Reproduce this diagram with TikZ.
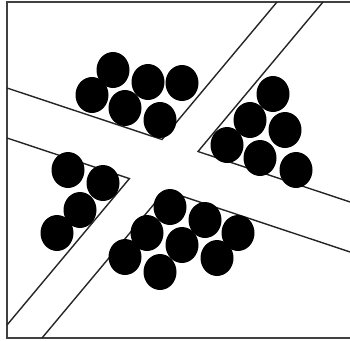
\documentclass[tikz,border=0pt]{standalone}
\usepackage{tikz}
\tikzset{road/.style={line width=1.4pt,black!85},car/.style={fill=black}}

\begin{document}
\begin{tikzpicture}[x=1pt,y=-1pt]
\useasboundingbox[fill=white] (0,0) rectangle (350,340);
\clip (0,0) rectangle (350,340);
\draw[line width=2pt,black!75](7,2) rectangle (354,338);
\coordinate (tl) at (162,139.5);
\coordinate (tr) at (198,151.5);
\coordinate (bl) at (129.4,178.6);
\coordinate (br) at (165.3,190.6);
\draw[road](7,88)--(tl)--(277,2);
\draw[road](323,2)--(tr)--(352,202.6);
\draw[road](7,138)--(bl)--(7,325);
\draw[road](42,338)--(br)--(352,252.6);
\foreach \x/\y in {113/70,92/95,148/82,182/83,125/108,160/120,
  273/94,250/120,285/130,227/145,260/158,296/170,
  68/170,103/183,80/210,57/233,
  170/207,205/220,238/233,147/233,182/245,217/258,125/257,160/272}
  \fill[car](\x,\y) ellipse[x radius=16.5pt,y radius=18pt];
\end{tikzpicture}
\end{document}
